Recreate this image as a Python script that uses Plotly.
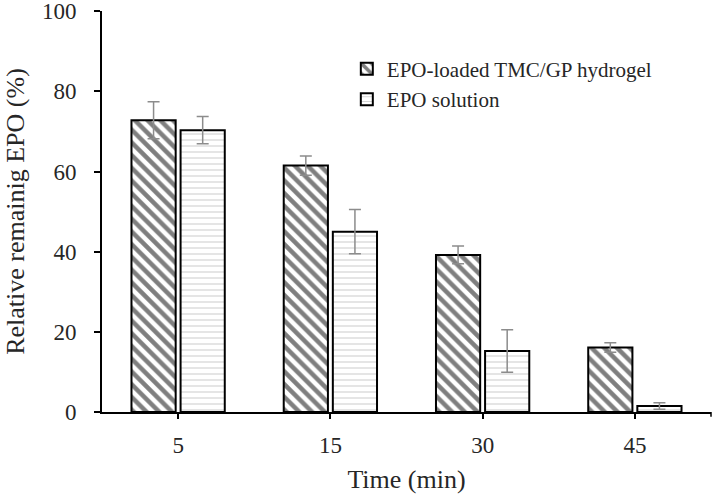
import plotly.graph_objects as go

times = ["5", "15", "30", "45"]
hydrogel = [72.8, 61.5, 39.2, 16.1]
hydrogel_err = [4.6, 2.4, 2.2, 1.2]
solution = [70.3, 45.0, 15.2, 1.5]
solution_err = [3.4, 5.5, 5.3, 0.8]
y_ticks = [0, 20, 40, 60, 80, 100]

FONT = "Liberation Serif, Times New Roman, serif"
TXT = "#262626"

fig = go.Figure()
fig.add_trace(go.Bar(
    x=times, y=hydrogel, name="EPO-loaded TMC/GP hydrogel",
    marker=dict(color="white", line=dict(color="black", width=2),
                pattern=dict(shape="\\", fgcolor="black", bgcolor="white",
                             size=9, solidity=0.5)),
    error_y=dict(type="data", array=hydrogel_err, color="#8c8c8c",
                 thickness=1.5, width=6),
))
fig.add_trace(go.Bar(
    x=times, y=solution, name="EPO solution",
    marker=dict(color="white", line=dict(color="black", width=2),
                pattern=dict(shape="-", fgcolor="#a8a8a8", bgcolor="white",
                             size=6, solidity=0.2)),
    error_y=dict(type="data", array=solution_err, color="#8c8c8c",
                 thickness=1.5, width=6),
))

fig.update_layout(
    width=714, height=496,
    margin=dict(l=102, r=3, t=11, b=84, autoexpand=False),
    paper_bgcolor="white", plot_bgcolor="white",
    barmode="group", bargap=0.355, bargroupgap=0.1,
    font=dict(family=FONT, color=TXT, size=23),
    showlegend=True,
    legend=dict(x=0.402, y=0.906, xanchor="left", yanchor="top",
                font=dict(family=FONT, size=21, color=TXT),
                bgcolor="rgba(0,0,0,0)", itemwidth=30, tracegroupgap=0),
    xaxis=dict(type="category", showline=True, linecolor="black", linewidth=2,
               ticks="outside", ticklen=5, tickwidth=1.5, tickcolor="black",
               showgrid=False, zeroline=False, automargin=False,
               ticklabelstandoff=6, ticklabeloverflow="allow",
               tickfont=dict(family=FONT, size=23, color=TXT),
               title=dict(text="Time (min)", font=dict(family=FONT, size=26, color=TXT),
                          standoff=13)),
    yaxis=dict(range=[0, 100.05], tickvals=y_ticks, showline=True, linecolor="black",
               linewidth=2, ticks="outside", ticklen=6, tickwidth=1.5, tickcolor="black",
               showgrid=False, zeroline=False, ticklabelstandoff=13, automargin=False,
               ticklabeloverflow="allow",
               tickfont=dict(family=FONT, size=23, color=TXT),
               title=dict(text="Relative remainig EPO (%)",
                          font=dict(family=FONT, size=26, color=TXT), standoff=10)),
)
# closing tick at the right end of the category axis
fig.add_shape(type="line", xref="paper", yref="paper", x0=1, x1=1, y0=0, y1=-0.012,
              line=dict(color="black", width=1.5))

fig.write_html("out.html", config={"displayModeBar": False},
               post_script="document.body.style.margin='0px';document.body.style.padding='0px';")
